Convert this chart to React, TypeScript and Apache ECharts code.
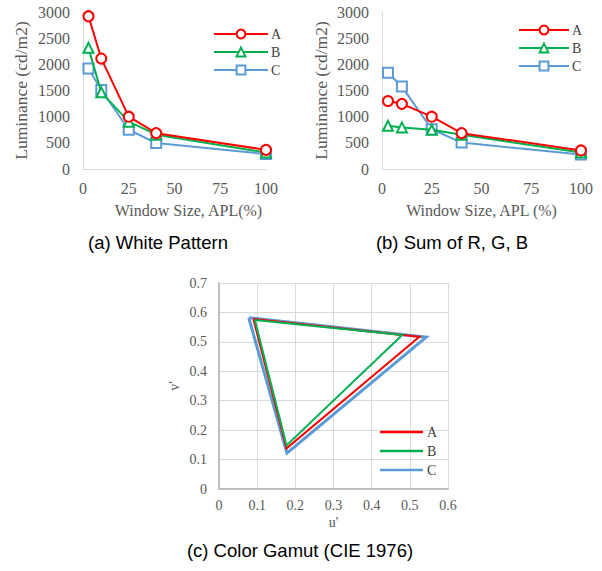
import React, { useEffect, useRef } from "react";
import * as echarts from "echarts";

const apl = [3, 10, 25, 40, 100];
const whiteA = [2920, 2110, 1000, 685, 365];
const whiteB = [2315, 1465, 905, 655, 315];
const whiteC = [1920, 1510, 750, 495, 285];
const sumA = [1300, 1245, 1000, 685, 355];
const sumB = [825, 795, 750, 655, 315];
const sumC = [1840, 1575, 760, 505, 275];

const gamutAU = [0.09, 0.525, 0.177, 0.09];
const gamutAV = [0.578, 0.517, 0.138, 0.578];
const gamutBU = [0.094, 0.48, 0.177, 0.094];
const gamutBV = [0.574, 0.523, 0.148, 0.574];
const gamutCU = [0.078, 0.543, 0.178, 0.078];
const gamutCV = [0.582, 0.516, 0.122, 0.582];

const seriesNames = ["A", "B", "C"];
const colors = ["#FF0000", "#00B050", "#5B9BD5"];
const symbols = ["circle", "triangle", "rect"];

const SERIF = "Liberation Serif";
const SANS = "Liberation Sans";

const pairs = (xs: number[], ys: number[]) => xs.map((x, i) => [x, ys[i]]);

export default function App() {
  const ref = useRef<HTMLDivElement>(null);
  useEffect(() => {
    document.body.style.margin = "0";
    const chart = echarts.init(ref.current!, undefined, { renderer: "svg" });

    const lumSeries = (vals: number[][], grid: number) =>
      vals.map((v, i) => ({
        name: seriesNames[i],
        type: "line",
        xAxisIndex: grid,
        yAxisIndex: grid,
        data: pairs(apl, v),
        symbol: symbols[i],
        symbolSize: 10,
        color: colors[i],
        lineStyle: { width: 2, color: colors[i] },
        itemStyle: { color: "#FFFFFF", borderColor: colors[i], borderWidth: 2 },
        z: 3 - i,
      }));

    const gamut = [
      [gamutAU, gamutAV],
      [gamutBU, gamutBV],
      [gamutCU, gamutCV],
    ];
    const gamutSeries = gamut.map((g, i) => ({
      name: seriesNames[i],
      type: "line",
      xAxisIndex: 2,
      yAxisIndex: 2,
      data: pairs(g[0], g[1]),
      symbol: "none",
      color: colors[i],
      lineStyle: { width: i === 2 ? 3 : 2, color: colors[i], join: "miter" },
      z: i === 2 ? 1 : i === 1 ? 3 : 2,
    }));

    const plain = (v: number) => String(v);

    const lumX = (name: string, grid: number, shift: number) => ({
      type: "value",
      gridIndex: grid,
      min: 0,
      max: 100,
      interval: 25,
      name,
      nameLocation: "middle",
      nameGap: 33,
      nameTextStyle: { fontFamily: SERIF, fontSize: 16, color: "#595959", padding: [0, 0, 0, shift] },
      axisLine: { show: true, lineStyle: { color: "#D9D9D9", width: 1 } },
      axisTick: { show: false },
      splitLine: { show: false },
      axisLabel: { fontFamily: SERIF, fontSize: 16, color: "#595959", margin: 11, formatter: plain },
    });
    const lumY = (grid: number, gap: number) => ({
      type: "value",
      gridIndex: grid,
      min: 0,
      max: 3000,
      interval: 500,
      name: "Luminance (cd/m2)",
      nameLocation: "middle",
      nameGap: gap,
      nameTextStyle: { fontFamily: SERIF, fontSize: 17.5, color: "#595959" },
      axisLine: { show: true, lineStyle: { color: "#D9D9D9", width: 1 } },
      axisTick: { show: false },
      splitLine: { show: false },
      axisLabel: { fontFamily: SERIF, fontSize: 16, color: "#595959", margin: 13, formatter: plain },
    });

    const lumLegend = (left: number, top: number, w: number) => ({
      left,
      top,
      padding: 0,
      orient: "vertical",
      itemWidth: w,
      itemHeight: 11,
      itemGap: 4,
      data: seriesNames,
      selectedMode: false,
      textStyle: { fontFamily: SERIF, fontSize: 14, color: "#404040", padding: [0, 0, 0, -2] },
    });

    const caption = (text: string, x: number, y: number) => ({
      type: "text",
      x,
      y,
      style: { text, fontFamily: SANS, fontSize: 18.5, fill: "#000", align: "center", verticalAlign: "middle" },
    });

    chart.setOption({
      animation: false,
      grid: [
        { left: 83, top: 12, width: 183, height: 157 },
        { left: 382, top: 12, width: 199, height: 157 },
        { left: 219, top: 283, width: 229, height: 206 },
      ],
      xAxis: [
        lumX("Window Size, APL(%)", 0, 28),
        lumX("Window Size, APL (%)", 1, 0),
        {
          type: "value",
          gridIndex: 2,
          min: 0,
          max: 0.6,
          interval: 0.1,
          name: "u'",
          nameLocation: "middle",
          nameGap: 26,
          nameTextStyle: { fontFamily: SERIF, fontSize: 14, color: "#595959" },
          axisLine: { show: true, lineStyle: { color: "#BFBFBF", width: 2 } },
          axisTick: { show: false },
          splitLine: { show: true, lineStyle: { color: "#D9D9D9", width: 1 } },
          axisLabel: { fontFamily: SERIF, fontSize: 14, color: "#595959", margin: 9 },
        },
      ],
      yAxis: [
        lumY(0, 53),
        lumY(1, 52),
        {
          type: "value",
          gridIndex: 2,
          min: 0,
          max: 0.7,
          interval: 0.1,
          name: "v'",
          nameLocation: "middle",
          nameGap: 38,
          nameTextStyle: { fontFamily: SERIF, fontSize: 14, color: "#595959" },
          axisLine: { show: true, lineStyle: { color: "#BFBFBF", width: 2 } },
          axisTick: { show: false },
          splitLine: { show: true, lineStyle: { color: "#D9D9D9", width: 1 } },
          axisLabel: { fontFamily: SERIF, fontSize: 14, color: "#595959", margin: 12 },
        },
      ],
      legend: [
        lumLegend(213, 27, 54),
        lumLegend(518, 23, 50),
        {
          left: 380,
          top: 424,
          padding: 0,
          orient: "vertical",
          itemWidth: 43,
          itemHeight: 2.5,
          itemGap: 3,
          icon: "rect",
          data: seriesNames.map((n, i) => ({
            name: n,
            itemStyle: { color: colors[i], borderWidth: 0, opacity: 1 },
          })),
          selectedMode: false,
          textStyle: { fontFamily: SERIF, fontSize: 14, color: "#404040", padding: [0, 0, 0, -1], lineHeight: 16 },
        },
      ],
      series: [
        ...lumSeries([whiteA, whiteB, whiteC], 0),
        ...lumSeries([sumA, sumB, sumC], 1),
        ...gamutSeries,
      ],
      graphic: [
        caption("(a) White Pattern", 158, 242),
        caption("(b) Sum of R, G, B", 452, 242),
        caption("(c) Color Gamut (CIE 1976)", 300, 550),
      ],
    });
    return () => chart.dispose();
  }, []);
  return <div ref={ref} style={{ position: "absolute", left: 0, top: 0, width: 602, height: 571 }} />;
}
